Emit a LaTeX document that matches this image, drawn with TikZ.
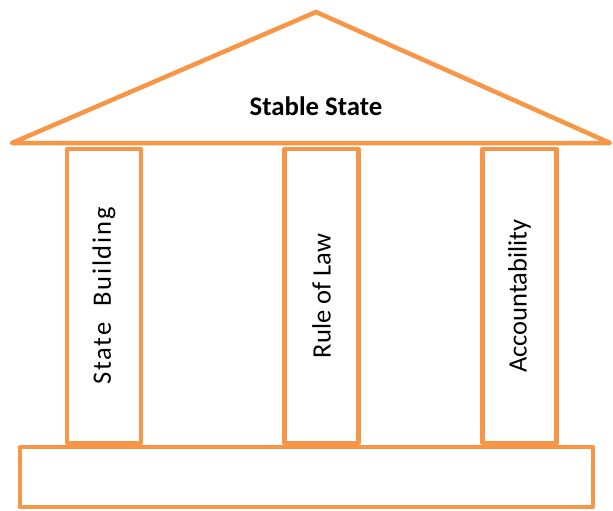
\documentclass[tikz,border=0pt]{standalone}
\usepackage{fontspec}
\setmainfont{Carlito}
\definecolor{orng}{HTML}{F79646}
\newcommand{\pfont}{\fontsize{26.5}{31}\selectfont}
\begin{document}
\begin{tikzpicture}[x=1pt,y=-1pt,
  outline/.style={draw=orng,line width=4.5pt,line join=round},
  pillar/.style={outline,fill=white,inner sep=0pt,minimum width=74pt,minimum height=294pt},
  rooflabel/.style={font=\fontsize{26.8}{31}\selectfont\bfseries}]
\useasboundingbox (0,0) rectangle (613,511);
\coordinate (apex) at (316,12);
\coordinate (rl) at (12,143);
\coordinate (rr) at (610,143);
\draw[outline] (rl) -- (apex) -- (rr) -- cycle;
\node[rooflabel] (roof) at (316,106) {Stable State};
\node[pillar] (p1) at (104,296) {\rotatebox{90}{\pfont\addfontfeature{LetterSpace=7}State\ \ Building}};
\node[pillar] (p2) at (321.5,296) {\rotatebox{90}{\pfont Rule of Law}};
\node[pillar] (p3) at (519.5,296) {\rotatebox{90}{\pfont Accountability}};
\node[outline,inner sep=0pt,minimum width=573pt,minimum height=60pt] (base) at (306.5,477) {};
\end{tikzpicture}
\end{document}
